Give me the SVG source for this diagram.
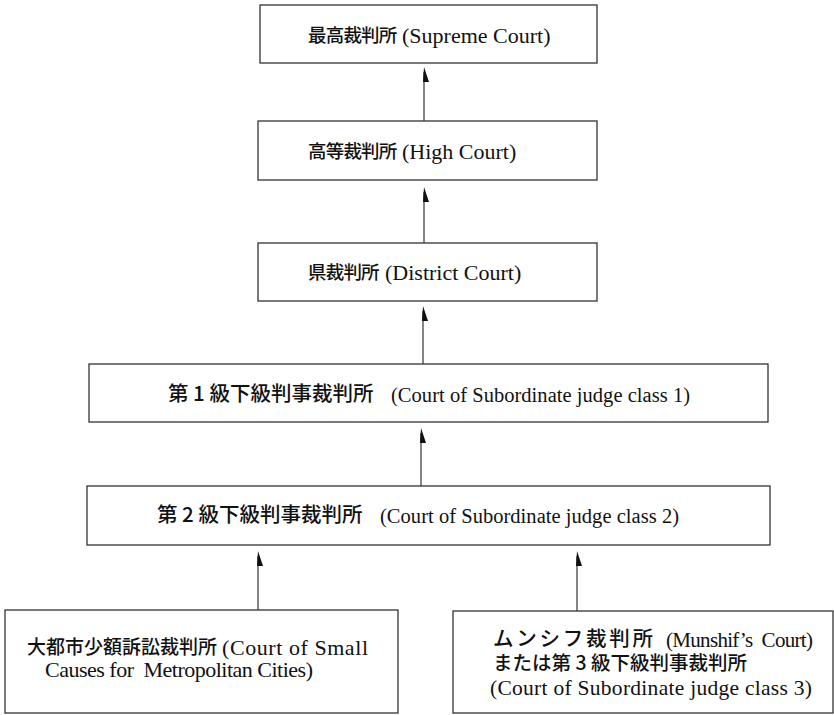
<svg xmlns="http://www.w3.org/2000/svg" width="834" height="715" viewBox="0 0 834 715">
<style>
.box{fill:#fff;stroke:#333;stroke-width:1.3}
text{fill:#111;white-space:pre}
.j{font-family:"Noto Sans CJK JP","Noto Sans",sans-serif;font-weight:500}
.e{font-family:"Liberation Serif","DejaVu Serif",serif}
.top{font-size:18.5px;letter-spacing:-0.8px}
.c{stroke:#333;stroke-width:1.2;fill:none}
.h{fill:#111;stroke:none}
</style>
<rect width="834" height="715" fill="#fff"/>
<g id="connectors">
<line class="c" x1="424" y1="121" x2="424" y2="72"/><polygon class="h" points="424,67 429,82 423,82"/>
<line class="c" x1="424" y1="243" x2="424" y2="192"/><polygon class="h" points="424,187 429,202 423,202"/>
<line class="c" x1="423" y1="364" x2="423" y2="311"/><polygon class="h" points="423,306 428,321 422,321"/>
<line class="c" x1="421" y1="486" x2="421" y2="433"/><polygon class="h" points="421,428 426,443 420,443"/>
<line class="c" x1="258" y1="610" x2="258" y2="556"/><polygon class="h" points="258,551 263,566 257,566"/>
<line class="c" x1="577" y1="611" x2="577" y2="556"/><polygon class="h" points="577,551 582,566 576,566"/>
</g>
<g id="supreme">
<rect class="box" x="260" y="5" width="337" height="58"/>
<text class="j top" x="308" y="42">最高裁判所</text>
<text class="e" x="402" y="43" font-size="22">(Supreme Court)</text>
</g>
<g id="high">
<rect class="box" x="258" y="121" width="339" height="59"/>
<text class="j top" x="308" y="158">高等裁判所</text>
<text class="e" x="402" y="159" font-size="22">(High Court)</text>
</g>
<g id="district">
<rect class="box" x="258" y="243" width="339" height="58"/>
<text class="j top" x="308" y="279">県裁判所</text>
<text class="e" x="385" y="280" font-size="22">(District Court)</text>
</g>
<g id="class1">
<rect class="box" x="89" y="364" width="679" height="58"/>
<text class="j" x="168" y="401" font-size="20.5">第 1 級下級判事裁判所</text>
<text class="e" x="391" y="402" font-size="20.5" textLength="299">(Court of Subordinate judge class 1)</text>
</g>
<g id="class2">
<rect class="box" x="87" y="486" width="683" height="59"/>
<text class="j" x="157" y="522" font-size="20.5">第 2 級下級判事裁判所</text>
<text class="e" x="380" y="523" font-size="20.5" textLength="299">(Court of Subordinate judge class 2)</text>
</g>
<g id="smallcauses">
<rect class="box" x="5" y="610" width="393" height="103"/>
<text class="j" x="27" y="654" font-size="19">大都市少額訴訟裁判所</text>
<text class="e" x="222" y="655" font-size="22" textLength="146">(Court of Small</text>
<text class="e" x="45" y="677" font-size="22" textLength="268">Causes for  Metropolitan Cities)</text>
</g>
<g id="munshif">
<rect class="box" x="453" y="611" width="380" height="102"/>
<text class="j" x="493" y="646" font-size="20.5" textLength="160">ムンシフ裁判所</text>
<text class="e" x="666" y="647" font-size="21" textLength="147">(Munshif’s  Court)</text>
<text class="j" x="493" y="670" font-size="19.5" textLength="254">または第 3 級下級判事裁判所</text>
<text class="e" x="490" y="695" font-size="21.5" textLength="322">(Court of Subordinate judge class 3)</text>
</g>
</svg>
